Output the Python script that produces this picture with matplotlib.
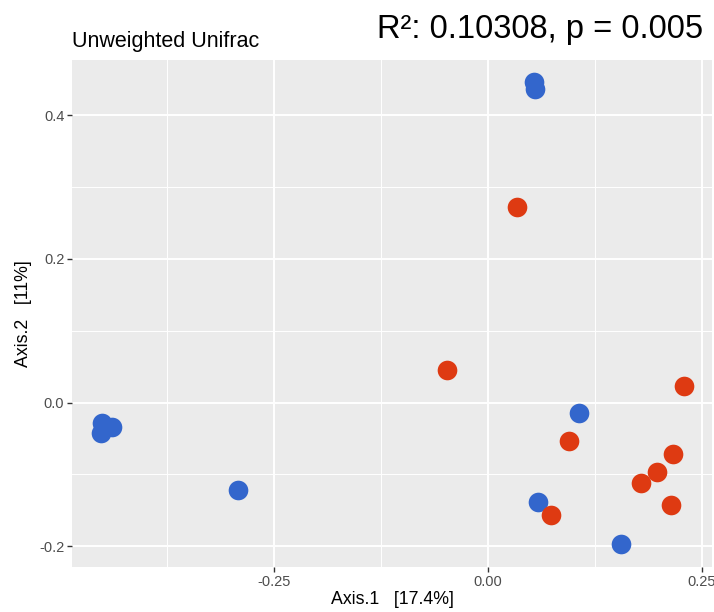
import numpy as np
import matplotlib
matplotlib.use('Agg')
import matplotlib.pyplot as plt
from matplotlib.ticker import MultipleLocator

plt.rcParams['font.family'] = ['Liberation Sans', 'DejaVu Sans']

# PCoA coordinates
axis1_blue = [0.0541, 0.0553, -0.4513, -0.4396, -0.4525, -0.292, 0.1063, 0.0592, 0.1562]
axis2_blue = [0.446, 0.437, -0.0282, -0.0338, -0.0429, -0.122, -0.0151, -0.1387, -0.1963]
axis1_red = [0.0339, -0.0479, 0.2294, 0.0950, 0.2165, 0.1978, 0.1795, 0.2146, 0.0744]
axis2_red = [0.272, 0.0453, 0.0230, -0.0541, -0.0722, -0.0973, -0.1117, -0.1433, -0.1572]

x_ticks = [-0.25, 0.0, 0.25]
x_tick_labels = ['-0.25', '0.00', '0.25']
y_ticks = [-0.2, 0.0, 0.2, 0.4]
y_tick_labels = ['-0.2', '0.0', '0.2', '0.4']

title = 'Unweighted Unifrac'
stat_text = 'R\u00b2: 0.10308, p = 0.005'
xlabel = 'Axis.1   [17.4%]'
ylabel = 'Axis.2   [11%]'

W, H = 714, 612
fig = plt.figure(figsize=(W / 100, H / 100), dpi=100)
ax = fig.add_axes([72 / W, (H - 567) / H, (712 - 72) / W, (567 - 60) / H])
ax.set_facecolor('#EBEBEB')
for s in ax.spines.values():
    s.set_visible(False)

ax.scatter(axis1_blue, axis2_blue, s=200, color='#3366CC', linewidths=0, zorder=3)
ax.scatter(axis1_red, axis2_red, s=200, color='#DE3A12', linewidths=0, zorder=3)

ax.set_xlim(-0.486, 0.262)
ax.set_ylim(-0.229, 0.477)
ax.set_xticks(x_ticks)
ax.set_xticklabels(x_tick_labels)
ax.set_yticks(y_ticks)
ax.set_yticklabels(y_tick_labels)
ax.xaxis.set_minor_locator(MultipleLocator(0.125))
ax.yaxis.set_minor_locator(MultipleLocator(0.1))
ax.grid(which='major', color='white', linewidth=1.4)
ax.grid(which='minor', color='white', linewidth=0.7)
ax.set_axisbelow(True)
ax.tick_params(which='major', length=3.5, width=1, color='#333333',
               labelcolor='#4D4D4D', labelsize=10.5, pad=2)
ax.tick_params(which='minor', length=0)

ax.set_xlabel(xlabel, fontsize=12.8, labelpad=2)
ax.set_ylabel(ylabel, fontsize=12.8, labelpad=5)

fig.text(72 / W, 1 - 47 / H, title, fontsize=15.5, ha='left', va='baseline')
fig.text(703 / W, 1 - 38 / H, stat_text, fontsize=23.5, ha='right', va='baseline')

fig.savefig('out.png', dpi=100)
